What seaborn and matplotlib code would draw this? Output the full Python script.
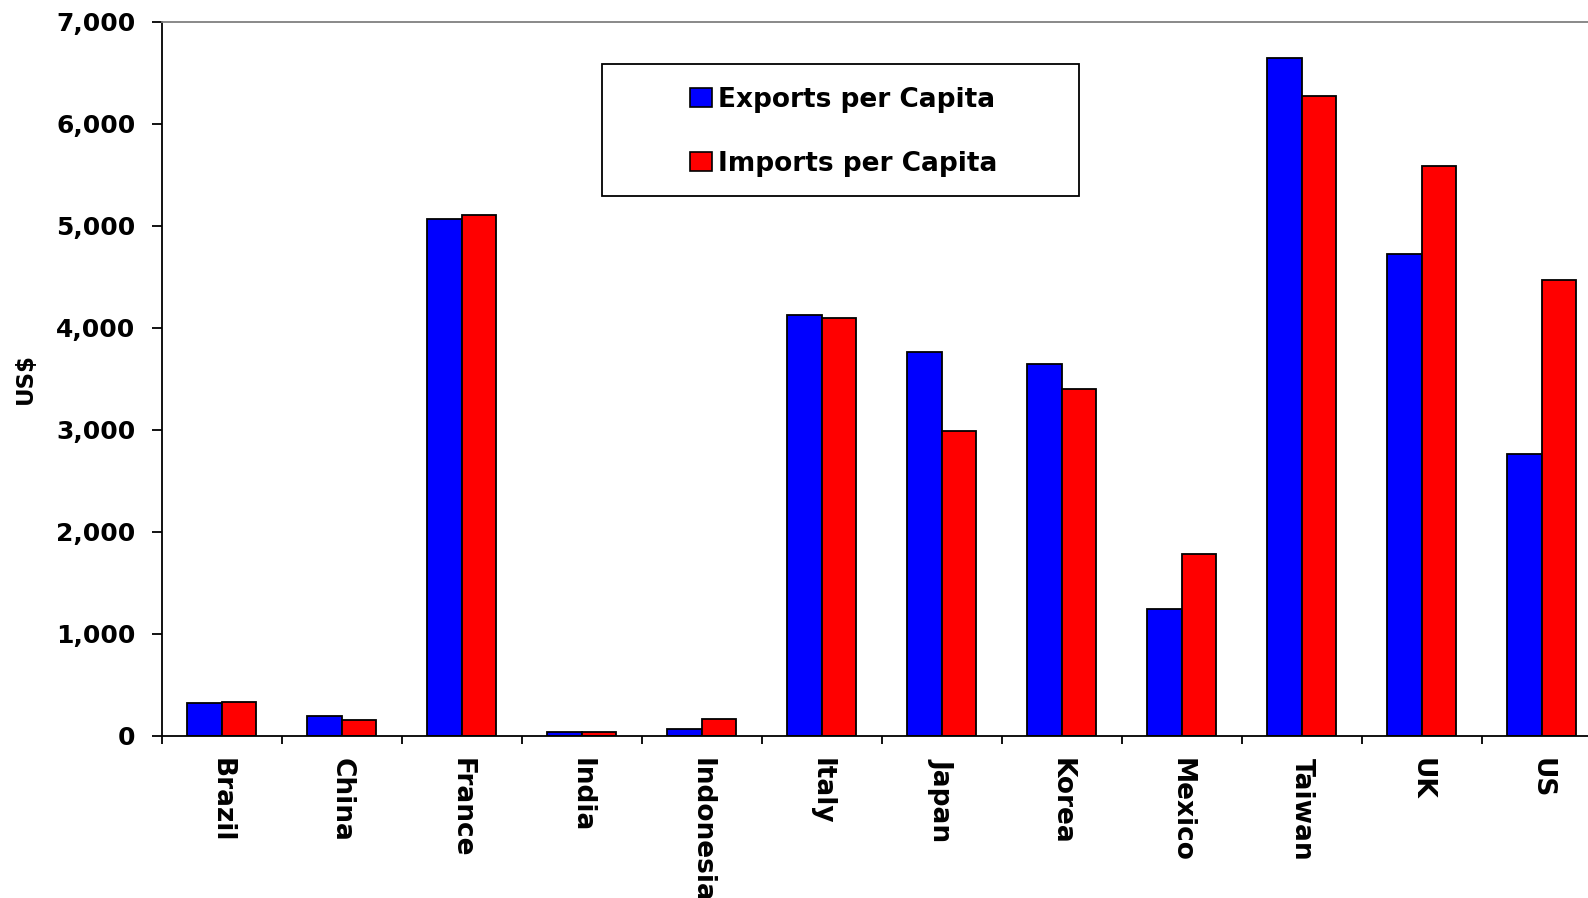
import numpy as np
import pandas as pd
import matplotlib
matplotlib.use("Agg")
import matplotlib.pyplot as plt
import seaborn as sns
from matplotlib.patches import Rectangle
from matplotlib.ticker import FixedLocator, FuncFormatter

# values (US$ per capita)
countries = ['Brazil', 'China', 'France', 'India', 'Indonesia', 'Italy',
             'Japan', 'Korea', 'Mexico', 'Taiwan', 'UK', 'US']
exports = [318, 196, 5064, 39, 63, 4123, 3766, 3647, 1239, 6647, 4725, 2765]
imports = [333, 157, 5104, 35, 161, 4093, 2983, 3399, 1784, 6275, 5588, 4471]
series = ['Exports per Capita', 'Imports per Capita']
y_ticks = [0, 1000, 2000, 3000, 4000, 5000, 6000, 7000]

data = pd.DataFrame({
    'Country': countries * 2,
    'Value': exports + imports,
    'Series': [series[0]] * len(countries) + [series[1]] * len(countries),
})

sns.set_theme(style='white')
plt.rcParams['font.family'] = ['DejaVu Sans']
plt.rcParams['font.weight'] = 'bold'
plt.rcParams['text.color'] = 'black'
plt.rcParams['axes.labelcolor'] = 'black'
plt.rcParams['xtick.color'] = 'black'
plt.rcParams['ytick.color'] = 'black'

fig = plt.figure(figsize=(15.88, 8.98), dpi=100)
ax = fig.add_axes([0.1018, 0.1807, 0.9068, 0.7951])

sns.barplot(data=data, x='Country', y='Value', hue='Series', order=countries,
            hue_order=series, palette=['#0000FF', '#FF0000'], width=0.575,
            edgecolor='black', linewidth=1.3, saturation=1, ax=ax, legend=False)

ax.set_xlim(-0.5, len(countries) - 0.5)
ax.set_ylim(0, 7000)
ax.yaxis.set_major_locator(FixedLocator(y_ticks))
ax.yaxis.set_major_formatter(FuncFormatter(lambda v, p: f'{int(v):,}'))

# category separators as minor ticks, labels without tick marks
ax.xaxis.set_minor_locator(FixedLocator(np.arange(-0.5, len(countries), 1.0)))
ax.tick_params(axis='x', which='major', length=0, pad=16, labelsize=19, rotation=270,
               labelcolor='black')
ax.tick_params(axis='x', which='minor', bottom=True, length=6, width=1.3, color='black')
ax.tick_params(axis='y', which='major', left=True, length=7, width=1.3, color='black',
               pad=12, labelsize=18, labelcolor='black')
for lab in ax.get_xticklabels() + ax.get_yticklabels():
    lab.set_fontweight('bold')

ax.set_xlabel('')
ax.set_ylabel('US$', fontsize=16.5, fontweight='bold', labelpad=14, color='black')

for s in ['left', 'bottom']:
    ax.spines[s].set_color('black')
    ax.spines[s].set_linewidth(1.3)
ax.spines['top'].set_color('#808080')
ax.spines['top'].set_linewidth(1.3)
ax.spines['right'].set_visible(False)

# legend in a boxed frame
handles = [Rectangle((0, 0), 1, 1, facecolor=c, edgecolor='black', linewidth=1.2)
           for c in ['#0000FF', '#FF0000']]
leg = fig.legend(handles, series, loc='center', bbox_to_anchor=(0.5315, 0.8532),
                 frameon=False, prop={'size': 19, 'weight': 'bold'},
                 handlelength=0.8, handleheight=0.75, handletextpad=0.25,
                 labelspacing=1.45, labelcolor='black')
fig.patches.append(Rectangle((601.7 / 1588, 1 - 195.7 / 898), 477.3 / 1588, 131.7 / 898,
                             transform=fig.transFigure, facecolor='none',
                             edgecolor='black', linewidth=1.3))

plt.savefig('out.png', dpi=100)
